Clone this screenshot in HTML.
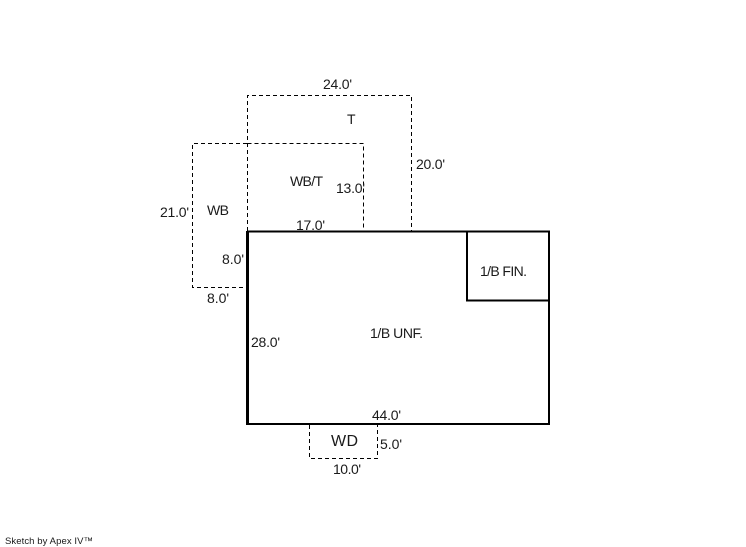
<!DOCTYPE html>
<html>
<head>
<meta charset="utf-8">
<style>
html,body{margin:0;padding:0;background:#fff}
svg{display:block}
text{font-family:"Liberation Sans",Arial,sans-serif;font-size:14px;fill:#1a1a1a}
</style>
</head>
<body>
<svg width="746" height="547" viewBox="0 0 746 547" xmlns="http://www.w3.org/2000/svg">
<g fill="none" stroke="#000" stroke-width="1" stroke-dasharray="4 3">
<path d="M247.5 231V95.5H411.5V231"/>
<path d="M247 143.5H192.5V287.5H247"/>
<path d="M247.5 143.5H363.5V231"/>
<path d="M309.5 425V458.5H377.5V425"/>
</g>
<g fill="none" stroke="#000">
<path d="M248 231.5H549V424H248Z" stroke-width="2"/>
<path d="M247.5 231V425" stroke-width="3"/>
<path d="M467 232V300.5H549" stroke-width="2"/>
</g>
<text x="323" y="89" textLength="29">24.0'</text>
<text x="347" y="124">T</text>
<text x="416" y="169" textLength="29">20.0'</text>
<text x="290" y="186" textLength="33">WB/T</text>
<text x="336" y="193" textLength="29">13.0'</text>
<text x="160" y="217" textLength="29">21.0'</text>
<text x="207" y="215" textLength="22">WB</text>
<text x="296" y="230" textLength="29">17.0'</text>
<text x="222" y="264" textLength="22">8.0'</text>
<text x="207" y="303" textLength="22">8.0'</text>
<text x="480" y="276" textLength="47">1/B FIN.</text>
<text x="370" y="338" textLength="53">1/B UNF.</text>
<text x="251" y="347" textLength="29">28.0'</text>
<text x="372" y="420" textLength="29">44.0'</text>
<text x="331" y="446" style="font-size:16px" textLength="27">WD</text>
<text x="380" y="449" textLength="22">5.0'</text>
<text x="333" y="474" textLength="28">10.0'</text>
<text x="5" y="544" style="font-size:9.5px" textLength="88">Sketch by Apex IV™</text>
</svg>
</body>
</html>
